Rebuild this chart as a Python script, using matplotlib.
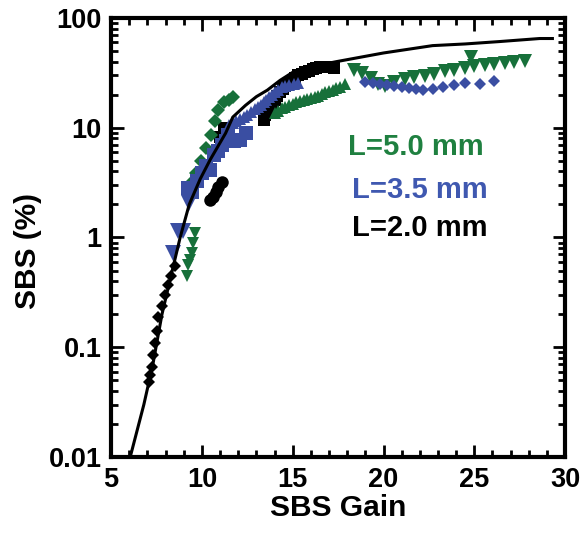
import matplotlib.pyplot as plt

plt.rcParams['font.family'] = ['Liberation Sans', 'DejaVu Sans']
plt.rcParams['font.weight'] = 'bold'

GREEN = '#17703a'
BLUE = '#3a4ea2'

# model curve
fit_x = [6.05, 6.8, 7.3, 7.8, 8.3, 8.8, 9.3, 9.9, 10.45, 11.3, 11.7, 12.4, 13.0, 13.6,
         14.3, 15.0, 16.0, 17.4, 20.0, 22.7, 24.5, 26.4, 28.6, 29.3]
fit_y = [0.01, 0.03, 0.07, 0.2, 0.45, 1.0, 2.0, 3.4, 5.1, 8.9, 12.5, 16.0, 19.2, 22.0,
         27.0, 32.0, 36.0, 40.0, 48.0, 56.0, 58.0, 61.0, 65.0, 65.0]

# L = 2.0 mm (black)
blk_dia_x = [7.06, 7.15, 7.24, 7.3, 7.42, 7.52, 7.6, 7.79, 7.97, 8.15, 8.3, 8.5]
blk_dia_y = [0.048, 0.056, 0.066, 0.085, 0.11, 0.14, 0.19, 0.24, 0.3, 0.37, 0.45, 0.55]
blk_cir_x = [10.45, 10.6, 10.75, 10.9, 11.1]
blk_cir_y = [2.2, 2.35, 2.6, 2.9, 3.2]
blk_sq_x = [11.0, 11.2, 13.4, 13.5, 13.6, 13.7, 13.8, 13.9, 14.0, 14.15, 14.3, 14.45,
            14.6, 14.8, 15.0, 15.15, 15.3, 15.5, 15.7, 15.9, 16.1, 16.3, 16.5, 16.7,
            16.9, 17.1, 17.3]
blk_sq_y = [8.2, 10.0, 11.8, 13.0, 14.5, 15.2, 16.0, 17.0, 18.0, 19.5, 21.0, 22.5,
            24.0, 25.5, 27.0, 28.5, 30.0, 31.0, 32.0, 33.0, 34.0, 35.0, 35.5, 36.0,
            36.0, 35.5, 35.0]

# L = 3.5 mm (blue)
blu_dtri_x = [8.43, 8.7, 8.98, 9.26, 9.35]
blu_dtri_y = [0.72, 1.15, 1.15, 2.05, 2.6]
blu_sq_x = [9.25, 9.45, 9.75, 10.0, 10.2, 10.45, 10.65, 10.9, 11.1, 11.3, 11.45,
            11.75, 12.1, 12.4]
blu_sq_y = [2.8, 2.6, 3.3, 3.9, 4.5, 4.1, 5.6, 6.2, 6.9, 7.6, 8.5, 7.5, 7.8, 9.0]
blu_utri_x = [11.5, 11.7, 11.9, 12.1, 12.3, 12.5, 12.7, 12.9, 13.1, 13.25, 13.4,
              13.55, 13.7, 13.85, 14.0, 14.2, 14.4, 14.6, 14.8, 15.05, 15.3]
blu_utri_y = [10.5, 11.0, 11.5, 12.0, 12.5, 13.2, 14.0, 14.8, 15.5, 16.2, 17.0,
              18.0, 19.0, 20.0, 21.0, 22.2, 23.5, 24.0, 24.5, 25.0, 25.5]
blu_dia_x = [19.0, 19.4, 19.8, 20.2, 20.6, 21.0, 21.4, 21.8, 22.2, 22.7, 23.3,
             23.9, 24.5, 25.3, 26.1]
blu_dia_y = [26.0, 25.5, 25.0, 24.5, 24.0, 23.5, 23.0, 22.5, 22.0, 22.5, 23.5,
             24.5, 25.5, 25.0, 26.5]

# L = 5.0 mm (green)
grn_dtri_lo_x = [9.16, 9.25, 9.35, 9.44, 9.5, 9.63]
grn_dtri_lo_y = [0.45, 0.56, 0.63, 0.72, 0.89, 1.1]
grn_dia_x = [9.5, 9.7, 9.95, 10.2, 10.5, 10.7, 10.9, 11.2, 11.5, 11.7]
grn_dia_y = [3.3, 3.9, 5.0, 6.5, 8.5, 11.5, 14.5, 17.0, 18.0, 19.0]
grn_utri_x = [14.0, 14.2, 14.4, 14.6, 14.8, 15.0, 15.2, 15.4, 15.6, 15.8, 16.0,
              16.2, 16.4, 16.6, 16.8, 17.0, 17.2, 17.4, 17.6, 17.9]
grn_utri_y = [13.5, 14.3, 15.0, 15.5, 16.0, 16.5, 17.0, 17.5, 18.0, 18.2, 18.5,
              19.0, 19.5, 20.2, 21.0, 21.5, 22.0, 22.8, 23.5, 25.0]
grn_dtri_hi_x = [18.4, 18.8, 19.3, 19.7, 20.1, 20.6, 21.2, 21.7, 22.3, 22.8, 23.4,
                 23.9, 24.5, 24.8, 25.0, 25.6, 26.1, 26.7, 27.2, 27.8]
grn_dtri_hi_y = [33.6, 31.6, 28.5, 25.1, 24.0, 26.1, 27.8, 28.9, 29.5, 30.8, 32.8,
                 33.6, 35.0, 44.0, 36.5, 37.3, 38.0, 39.0, 39.8, 40.7]

xticks = [5, 10, 15, 20, 25, 30]
yticks = [0.01, 0.1, 1, 10, 100]
ytick_labels = ['0.01', '0.1', '1', '10', '100']

fig = plt.figure(figsize=(5.85, 5.4), dpi=100)
ax = fig.add_axes([0.19, 0.1537, 0.776, 0.813])

ax.plot(blk_dia_x, blk_dia_y, 'D', color='black', ms=6, mew=0)
ax.plot(blk_cir_x, blk_cir_y, 'o', color='black', ms=9, mew=0)
ax.plot(blk_sq_x, blk_sq_y, 's', color='black', ms=9, mew=0)

ax.plot(grn_dtri_lo_x, grn_dtri_lo_y, 'v', color=GREEN, ms=9, mew=0)
ax.plot(grn_dia_x, grn_dia_y, 'D', color=GREEN, ms=7, mew=0)
ax.plot(grn_utri_x, grn_utri_y, '^', color=GREEN, ms=9, mew=0)
ax.plot(grn_dtri_hi_x, grn_dtri_hi_y, 'v', color=GREEN, ms=10, mew=0)

ax.plot(blu_dtri_x, blu_dtri_y, 'v', color=BLUE, ms=11, mew=0)
ax.plot(blu_sq_x, blu_sq_y, 's', color=BLUE, ms=10, mew=0)
ax.plot(blu_utri_x, blu_utri_y, '^', color=BLUE, ms=9, mew=0)
ax.plot(blu_dia_x, blu_dia_y, 'D', color=BLUE, ms=6.5, mew=0)

ax.plot(fit_x, fit_y, '-', color='black', lw=2.2)

ax.set_yscale('log')
ax.set_xlim(5, 30)
ax.set_ylim(0.01, 100)
ax.set_xticks(xticks)
ax.set_xticks(range(5, 31), minor=True)
ax.set_yticks(yticks, ytick_labels)

ax.tick_params(which='both', direction='in', top=True, right=True, width=2,
               labelsize=19.5, pad=7)
ax.tick_params(which='major', length=9)
ax.tick_params(which='minor', length=5)
for s in ax.spines.values():
    s.set_linewidth(3)

ax.set_xlabel('SBS Gain', fontsize=21.5, fontweight='bold', labelpad=1)
ax.set_ylabel('SBS (%)', fontsize=21.5, fontweight='bold')
ax.yaxis.set_label_coords(-0.152, 0.47)

ax.text(0.522, 0.706, 'L=5.0 mm', color='#1f8040', fontsize=21, fontweight='bold',
        transform=ax.transAxes, va='center')
ax.text(0.53, 0.608, 'L=3.5 mm', color='#3f58b0', fontsize=21, fontweight='bold',
        transform=ax.transAxes, va='center')
ax.text(0.53, 0.522, 'L=2.0 mm', color='black', fontsize=21, fontweight='bold',
        transform=ax.transAxes, va='center')

fig.savefig('out.png', dpi=100)
